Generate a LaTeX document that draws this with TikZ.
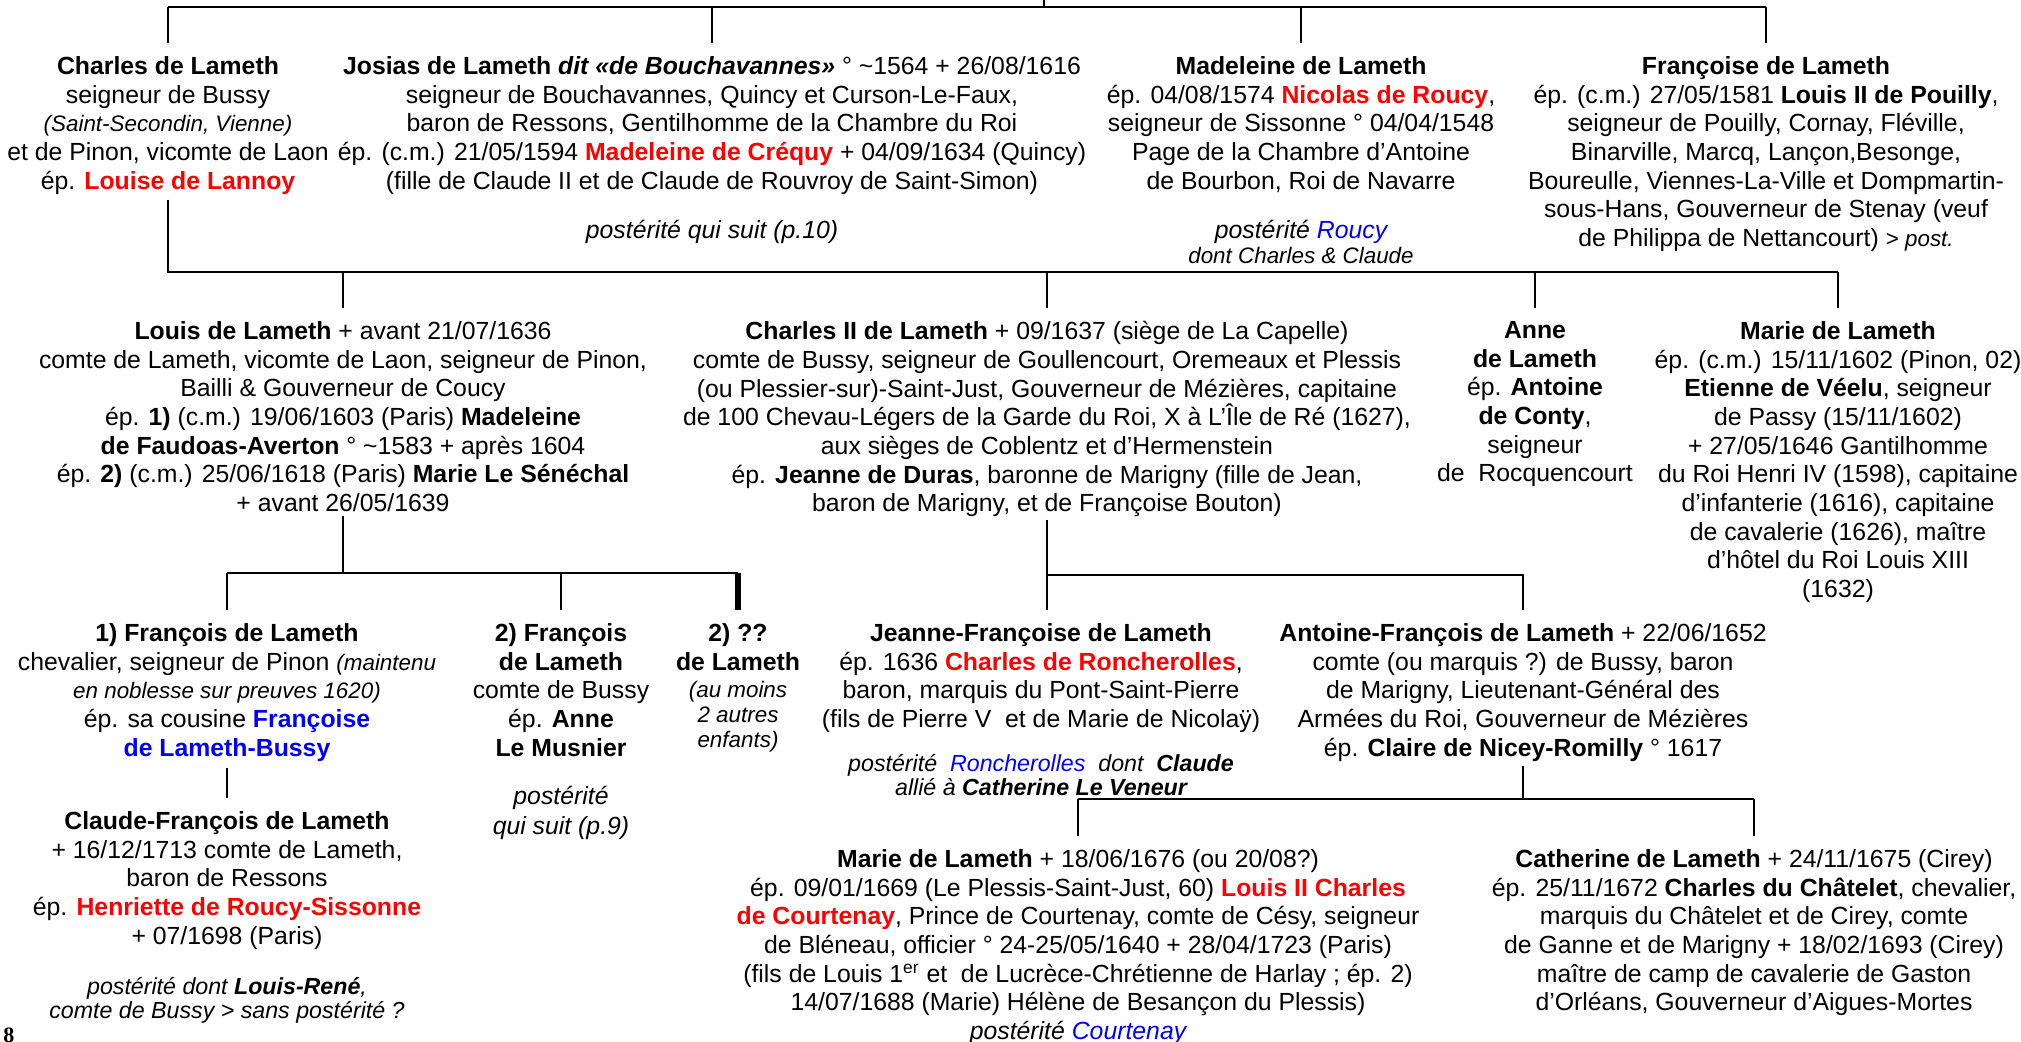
\documentclass[tikz,border=0pt]{standalone}
\usepackage{fontspec}
\setmainfont{Liberation Sans}
\newfontfamily\pagefont{Liberation Serif}
\usepackage{tikz}

\definecolor{rouge}{RGB}{255,0,0}
\definecolor{bleu}{RGB}{0,0,255}
\newcommand{\rg}[1]{\textbf{\textcolor{rouge}{#1}}}
\newcommand{\bl}[1]{\textcolor{bleu}{#1}}
\newcommand{\sm}{\fontsize{11.2}{12.4}\selectfont}
\newcommand{\tld}{\textasciitilde}

\tikzset{
  bloc/.style={align=center, anchor=north, inner sep=0pt, font=\fontsize{12.4}{14.35}\selectfont},
  petit/.style={align=center, anchor=north, inner sep=0pt, font=\fontsize{11.6}{12.1}\selectfont\itshape},
  lien/.style={line width=1.2pt},
  lienfort/.style={line width=2.6pt}
}

\begin{document}
\begin{tikzpicture}[x=0.5pt, y=-0.5pt]
\useasboundingbox (0,0) rectangle (2021,1042);

% premiere generation
\node[bloc] (charles) at (168,56) {\textbf{Charles de Lameth}\\ seigneur de Bussy\\ {\sm\itshape (Saint-Secondin, Vienne)}\\ et de Pinon, vicomte de Laon\\ ép. \rg{Louise de Lannoy}};
\node[bloc] (josias) at (712,56) {\textbf{Josias de Lameth \textit{dit «de Bouchavannes»}} ° \tld1564 + 26/08/1616\\ seigneur de Bouchavannes, Quincy et Curson-Le-Faux,\\ baron de Ressons, Gentilhomme de la Chambre du Roi\\ ép. (c.m.) 21/05/1594 \rg{Madeleine de Créquy} + 04/09/1634 (Quincy)\\ (fille de Claude II et de Claude de Rouvroy de Saint-Simon)};
\node[bloc, font=\fontsize{12.4}{14.35}\selectfont\itshape] (postJosias) at (712,220) {postérité qui suit (p.10)};
\node[bloc] (madeleine) at (1301,56) {\textbf{Madeleine de Lameth}\\ ép. 04/08/1574 \rg{Nicolas de Roucy},\\ seigneur de Sissonne ° 04/04/1548\\ Page de la Chambre d’Antoine\\ de Bourbon, Roi de Navarre};
\node[bloc, font=\fontsize{12.4}{14.35}\selectfont\itshape] (postRoucy) at (1301,220) {postérité \bl{Roucy}\\[-1.9pt] {\sm dont Charles \& Claude}};
\node[bloc] (francoise) at (1766,56) {\textbf{Françoise de Lameth}\\ ép. (c.m.) 27/05/1581 \textbf{Louis II de Pouilly},\\ seigneur de Pouilly, Cornay, Fléville,\\ Binarville, Marcq, Lançon,Besonge,\\ Boureulle, Viennes-La-Ville et Dompmartin-\\ sous-Hans, Gouverneur de Stenay (veuf\\ de Philippa de Nettancourt) {\sm > \textit{post.}}};

% deuxieme generation
\node[bloc] (louis) at (343,321) {\textbf{Louis de Lameth} + avant 21/07/1636\\ comte de Lameth, vicomte de Laon, seigneur de Pinon,\\ Bailli \& Gouverneur de Coucy\\ ép. \textbf{1)} (c.m.) 19/06/1603 (Paris) \textbf{Madeleine}\\ \textbf{de Faudoas-Averton} ° \tld1583 + après 1604\\ ép. \textbf{2)} (c.m.) 25/06/1618 (Paris) \textbf{Marie Le Sénéchal}\\ + avant 26/05/1639};
\node[bloc] (charlesII) at (1047,321) {\textbf{Charles II de Lameth} + 09/1637 (siège de La Capelle)\\ comte de Bussy, seigneur de Goullencourt, Oremeaux et Plessis\\ (ou Plessier-sur)-Saint-Just, Gouverneur de Mézières, capitaine\\ de 100 Chevau-Légers de la Garde du Roi, X à L’Île de Ré (1627),\\ aux sièges de Coblentz et d’Hermenstein\\ ép. \textbf{Jeanne de Duras}, baronne de Marigny (fille de Jean,\\ baron de Marigny, et de Françoise Bouton)};
\node[bloc] (anne) at (1535,321) {\textbf{Anne}\\ \textbf{de Lameth}\\ ép. \textbf{Antoine}\\ \textbf{de Conty},\\ seigneur\\ de\ \ Rocquencourt};
\node[bloc] (marie) at (1838,321) {\textbf{Marie de Lameth}\\ ép. (c.m.) 15/11/1602 (Pinon, 02)\\ \textbf{Etienne de Véelu}, seigneur\\ de Passy (15/11/1602)\\ + 27/05/1646 Gantilhomme\\ du Roi Henri IV (1598), capitaine\\ d’infanterie (1616), capitaine\\ de cavalerie (1626), maître\\ d’hôtel du Roi Louis XIII\\ (1632)};

% troisieme generation
\node[bloc] (francoisA) at (227,623) {\textbf{1) François de Lameth}\\ chevalier, seigneur de Pinon {\sm\itshape (maintenu}\\ {\sm\itshape en noblesse sur preuves 1620)}\\ ép. sa cousine \textbf{\bl{Françoise}}\\ \textbf{\bl{de Lameth-Bussy}}};
\node[bloc] (claude) at (227,811) {\textbf{Claude-François de Lameth}\\ + 16/12/1713 comte de Lameth,\\ baron de Ressons\\ ép. \rg{Henriette de Roucy-Sissonne}\\ + 07/1698 (Paris)};
\node[petit] (postClaude) at (227,977) {postérité dont \textbf{Louis-René},\\ comte de Bussy > sans postérité ?};
\node[bloc] (francoisB) at (561,623) {\textbf{2) François}\\ \textbf{de Lameth}\\ comte de Bussy\\ ép. \textbf{Anne}\\ \textbf{Le Musnier}};
\node[bloc, font=\fontsize{12.4}{14.35}\selectfont\itshape] (postFrB) at (561,786) {postérité\\[0.6pt] qui suit (p.9)};
\node[bloc] (inconnu) at (738,623) {\textbf{2) ??}\\ \textbf{de Lameth}\\[-0.8pt] {\sm\itshape (au moins}\\[-1.6pt] {\sm\itshape 2 autres}\\[-2pt] {\sm\itshape enfants)}};
\node[bloc] (jeanne) at (1041,623) {\textbf{Jeanne-Françoise de Lameth}\\ ép. 1636 \rg{Charles de Roncherolles},\\ baron, marquis du Pont-Saint-Pierre\\ (fils de Pierre V\ \ et de Marie de Nicolaÿ)};
\node[petit] (postJeanne) at (1041,754) {postérité\ \ \bl{Roncherolles}\ \ dont\ \ \textbf{Claude}\\ allié à \textbf{Catherine Le Veneur}};
\node[bloc] (antoine) at (1523,623) {\textbf{Antoine-François de Lameth} + 22/06/1652\\ comte (ou marquis ?) de Bussy, baron\\ de Marigny, Lieutenant-Général des\\ Armées du Roi, Gouverneur de Mézières\\ ép. \textbf{Claire de Nicey-Romilly} ° 1617};

% quatrieme generation
\node[bloc] (marieC) at (1078,849) {\textbf{Marie de Lameth} + 18/06/1676 (ou 20/08?)\\ ép. 09/01/1669 (Le Plessis-Saint-Just, 60) \rg{Louis II Charles}\\ \rg{de Courtenay}, Prince de Courtenay, comte de Césy, seigneur\\ de Bléneau, officier ° 24-25/05/1640 + 28/04/1723 (Paris)\\ (fils de Louis 1\textsuperscript{er} et\ \ de Lucrèce-Chrétienne de Harlay ; ép. 2)\\ 14/07/1688 (Marie) Hélène de Besançon du Plessis)\\ \textit{postérité \bl{Courtenay}}};
\node[bloc] (catherine) at (1754,849) {\textbf{Catherine de Lameth} + 24/11/1675 (Cirey)\\ ép. 25/11/1672 \textbf{Charles du Châtelet}, chevalier,\\ marquis du Châtelet et de Cirey, comte\\ de Ganne et de Marigny + 18/02/1693 (Cirey)\\ maître de camp de cavalerie de Gaston\\ d’Orléans, Gouverneur d’Aigues-Mortes};

\node[anchor=north west, inner sep=0pt, font=\pagefont\bfseries\fontsize{11}{12}\selectfont] (page) at (3,1027) {8};

% liens
\coordinate (haut) at (1044,0);
\coordinate (b0) at (0,7);
\coordinate (b1) at (0,272);
\coordinate (b2) at (0,573);
\coordinate (b3) at (0,575);
\coordinate (b4) at (0,799);
\draw[lien] (haut) -- (haut |- b0);
\draw[lien] (charles.north |- b0) -- (francoise.north |- b0);
\foreach \n in {charles,josias,madeleine,francoise}
  \draw[lien] (\n.north |- b0) -- ([yshift=6.5pt]\n.north);
\draw[lien] ([yshift=-2.5pt]charles.south) -- (charles.south |- b1) -- (marie.north |- b1);
\foreach \n in {louis,charlesII,anne,marie}
  \draw[lien] (\n.north |- b1) -- ([yshift=6.5pt]\n.north);
\draw[lien] ([yshift=-2pt]louis.south) -- (louis.south |- b2);
\draw[lien] (francoisA.north |- b2) -- (inconnu.north |- b2);
\foreach \n in {francoisA,francoisB}
  \draw[lien] (\n.north |- b2) -- ([yshift=6.5pt]\n.north);
\draw[lienfort] (inconnu.north |- b2) -- ([yshift=6.5pt]inconnu.north);
\draw[lien] ([yshift=-1pt]charlesII.south) -- ([yshift=6.5pt]charlesII.south |- jeanne.north);
\draw[lien] (charlesII.south |- b3) -- (antoine.north |- b3) -- ([yshift=6.5pt]antoine.north);
\draw[lien] ([yshift=-2pt]antoine.south) -- (antoine.south |- b4);
\draw[lien] (marieC.north |- b4) -- (catherine.north |- b4);
\foreach \n in {marieC,catherine}
  \draw[lien] (\n.north |- b4) -- ([yshift=6.5pt]\n.north);
\draw[lien] ([yshift=-3pt]francoisA.south) -- ([yshift=6.5pt]claude.north);
\end{tikzpicture}
\end{document}
